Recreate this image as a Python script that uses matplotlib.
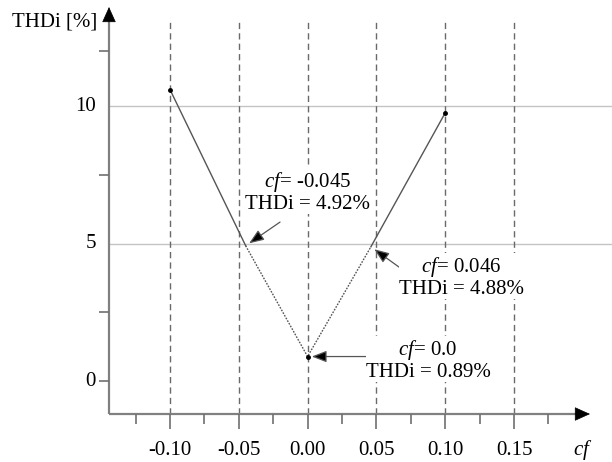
import matplotlib
matplotlib.use("Agg")
import matplotlib.pyplot as plt
from matplotlib.markers import TICKDOWN, TICKLEFT

plt.rcParams['font.family'] = ['Liberation Serif', 'DejaVu Serif']
plt.rcParams['mathtext.fontset'] = 'custom'
plt.rcParams['mathtext.rm'] = 'Liberation Serif'
plt.rcParams['mathtext.it'] = 'Liberation Serif:italic'

# data
cf = [-0.10, -0.045, 0.0, 0.046, 0.10]
thdi = [10.6, 4.92, 0.89, 4.88, 9.75]
marked = [0, 2, 4]                      # points drawn with a dot
x_major = [-0.10, -0.05, 0.00, 0.05, 0.10, 0.15]
x_minor = [-0.125, -0.075, -0.025, 0.025, 0.075, 0.125, 0.175]
x_labels = ['-0.10', '-0.05', '0.00', '0.05', '0.10', '0.15']
y_labeled = [0, 5, 10]
y_ticks = [0, 2.5, 7.5, 12]
y_grid = [5, 10]
notes = [
    (r'$\mathit{cf}$= -0.045' + '\nTHDi = 4.92%', 1, (0.0003, 6.87), (-0.020, 5.78)),
    (r'$\mathit{cf}$= 0.046' + '\nTHDi = 4.88%', 3, (0.1115, 3.78), (0.0693, 4.04)),
    (r'$\mathit{cf}$= 0.0' + '\nTHDi = 0.89%', 2, (0.0875, 0.76), (0.0504, 0.89)),
]

FS = 15
AX_X, AX_Y = -0.1443, -1.2          # where the two axes cross
X_END, Y_END = 0.2052, 13.6          # arrow tips

fig = plt.figure(figsize=(6.12, 4.62), dpi=100)
ax = fig.add_axes([0, 0, 1, 1])
ax.set_xlim(-0.2235, 0.2212)
ax.set_ylim(-2.945, 13.855)
ax.axis('off')

# grid
for v in y_grid:
    ax.plot([AX_X, 0.2212], [v, v], color='#c4c4c4', lw=1.0, zorder=1)
for v in x_major:
    ax.plot([v, v], [AX_Y, 13.13], color='#6a6a6a', lw=1.0, dashes=(4.5, 3), zorder=1)

# axes with black arrow heads
ax.plot([AX_X, X_END - 0.004], [AX_Y, AX_Y], color='#808080', lw=1.6, solid_capstyle='butt')
ax.plot([AX_X, AX_X], [AX_Y, Y_END - 0.2], color='#808080', lw=1.6, solid_capstyle='butt')
head = dict(arrowstyle='-|>,head_length=1.0,head_width=0.45', color='black',
            lw=0.5, shrinkA=0, shrinkB=0, mutation_scale=10)
ax.annotate('', xy=(X_END, AX_Y), xytext=(X_END - 0.01, AX_Y), arrowprops=head)
ax.annotate('', xy=(AX_X, Y_END), xytext=(AX_X, Y_END - 0.5), arrowprops=head)

# ticks
ax.plot(x_major, [AX_Y] * len(x_major), ls='none', marker=TICKDOWN, ms=10.8, mew=1.2, color='#707070')
ax.plot(x_minor, [AX_Y] * len(x_minor), ls='none', marker=TICKDOWN, ms=7, mew=1.2, color='#707070')
ax.plot([AX_X] * len(y_ticks), y_ticks, ls='none', marker=TICKLEFT, ms=7.5, mew=1.2, color='#707070')

for v, lab in zip(x_major, x_labels):
    ax.annotate(lab, (v, AX_Y), xytext=(0, -26), textcoords='offset points',
                ha='center', va='center', fontsize=FS)
for v in y_labeled:
    ax.annotate(str(v), (AX_X, v), xytext=(-9.5, 0), textcoords='offset points',
                ha='right', va='center', fontsize=FS)
ax.annotate(r'$\mathit{cf}$', (X_END, AX_Y), xytext=(-5, -26), textcoords='offset points',
            ha='center', va='center', fontsize=FS)
ax.annotate('THDi [%]', (AX_X, Y_END), xytext=(-70, -11), textcoords='offset points',
            ha='left', va='center', fontsize=FS)

# data line: solid outside, dotted inside
ax.plot(cf[:2], thdi[:2], color='#555555', lw=1.0, zorder=3)
ax.plot(cf[1:4], thdi[1:4], color='#555555', lw=1.0, ls=(0, (1.2, 1.0)), zorder=3)
ax.plot(cf[3:], thdi[3:], color='#555555', lw=1.0, zorder=3)
ax.plot([cf[i] for i in marked], [thdi[i] for i in marked], 'o', color='black', ms=2.5, zorder=4)

# annotations
for txt, i, tpos, apos in notes:
    ax.text(tpos[0], tpos[1], txt, ha='center', va='center', fontsize=FS,
            multialignment='center', linespacing=1.1, zorder=5,
            bbox=dict(facecolor='white', edgecolor='none', pad=0))
    ax.annotate('', xy=(cf[i], thdi[i]), xytext=apos,
                arrowprops=dict(arrowstyle='-|>,head_length=0.9,head_width=0.35',
                                color='#555555', lw=0.9, shrinkA=0, shrinkB=3,
                                mutation_scale=10, fc='black', ec='#555555'))

fig.savefig('out.png', dpi=100)
